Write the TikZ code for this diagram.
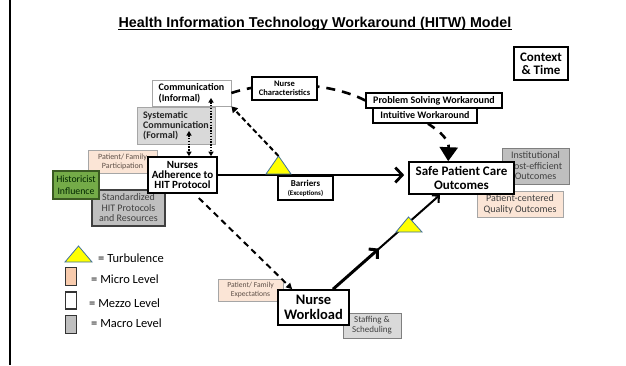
\documentclass[tikz,border=0pt]{standalone}
\usepackage{fontspec}
\setmainfont{Carlito}
\newfontfamily\titlefont{Liberation Sans}
\usetikzlibrary{arrows.meta,calc}

\definecolor{peach}{HTML}{FBE5D6}
\definecolor{peachdark}{HTML}{F8CBAD}
\definecolor{lightfill}{HTML}{D9D9D9}
\definecolor{midfill}{HTML}{BFBFBF}
\definecolor{histgreen}{HTML}{74AB48}
\definecolor{histedge}{HTML}{3A5A22}
\definecolor{turbyellow}{HTML}{FFFF00}
\definecolor{turbedge}{HTML}{41719C}
\definecolor{softedge}{HTML}{A6A6A6}
\definecolor{midedge}{HTML}{7F7F7F}
\definecolor{greytext}{HTML}{404040}
\definecolor{warmtext}{HTML}{5E5048}

\newcommand{\fs}[2]{\fontsize{#1}{#2}\selectfont}

\begin{document}
\begin{tikzpicture}[x=1pt,y=-1pt,
  box/.style={draw, inner sep=0pt, align=center, fill=white},
  mezzo/.style={box, line width=1.6pt},
  softbox/.style={box, draw=softedge, line width=0.8pt},
  micro/.style={box, fill=peach, draw=softedge, line width=0.8pt, text=warmtext},
  macro/.style={box, fill=midfill, draw=midedge, line width=0.9pt, text=greytext},
  macrolight/.style={box, fill=lightfill, draw=softedge, line width=0.9pt},
  turb/.style={fill=turbyellow, draw=turbedge, line width=0.8pt, line join=miter},
  heavydash/.style={line width=2.6pt, dash pattern=on 9pt off 7pt},
  meddash/.style={line width=2pt, dash pattern=on 5pt off 3pt},
  dotlink/.style={line width=1.6pt, dash pattern=on 1.4pt off 1.4pt,
    {Triangle[length=4.5pt,width=5pt]}-{Triangle[length=4.5pt,width=5pt]}},
  legtext/.style={anchor=west, inner sep=0pt, font=\fs{12.5}{14}}
]
\useasboundingbox (0,0) rectangle (626,365);

% frame edge and heading
\draw[line width=2.4pt] (10,0) -- (10,365);
\node[inner sep=0pt, anchor=base, font=\titlefont\bfseries\fs{14.3}{16}] (title) at (315,27)
  {Health Information Technology Workaround (HITW) Model};
\draw[line width=1.1pt] ([yshift=-2.2pt]title.base west) -- ([yshift=-2.2pt]title.base east);

% upper row: communication and workaround boxes
\node[softbox, minimum width=79pt, minimum height=26pt, align=left, font=\bfseries\fs{10}{10.5}]
  (comminf) at (191.5,93) {Communication\\(Informal)};
\node[box, line width=1.4pt, minimum width=136pt, minimum height=15pt, font=\bfseries\fs{10}{11}]
  (probsolv) at (434,100.5) {Problem Solving Workaround};
\node[box, line width=1.4pt, minimum width=104pt, minimum height=15pt, font=\bfseries\fs{10}{11}]
  (intuit) at (425,115.5) {Intuitive Workaround};

% dashed link running behind the nurse characteristics box
\draw[heavydash] (comminf.east) .. controls (270,80) and (330,82) .. (probsolv.west);
\node[box, line width=1.4pt, minimum width=65pt, minimum height=23pt, font=\bfseries\fs{8.5}{9}]
  (nursechar) at (284.5,88.5) {Nurse\\Characteristics};

\node[macrolight, minimum width=78pt, minimum height=37pt, align=left, font=\bfseries\fs{10}{10}, text=black!85]
  (syscomm) at (176,125.5) {Systematic\\Communication\\(Formal)};

% left cluster around protocol adherence
\node[micro, minimum width=69pt, minimum height=23pt, font=\fs{8}{9}]
  (patfam) at (122.5,161.5) {Patient/ Family\\Participation};
\node[macro, draw=black!75, line width=1.2pt, minimum width=73pt, minimum height=36pt, font=\fs{10}{10.5}]
  (stand) at (128.5,208) {Standardized\\HIT Protocols\\and Resources};
\node[box, fill=histgreen, draw=histedge, line width=1.2pt, minimum width=46pt, minimum height=28pt,
  font=\fs{9.8}{12}, text=black!85!green]
  (hist) at (76,185) {Historicist\\Influence};
\node[mezzo, minimum width=69pt, minimum height=36pt, font=\bfseries\fs{11}{10.2}]
  (adher) at (182.5,175) {Nurses\\Adherence to\\HIT Protocol};

% outcomes cluster
\node[macro, minimum width=67pt, minimum height=36pt, font=\fs{10}{10.5}]
  (inst) at (535.5,166) {Institutional\\Cost-efficient\\Outcomes};
\node[micro, minimum width=86pt, minimum height=26pt, font=\fs{10}{11}, text=greytext]
  (pcq) at (520,204) {Patient-centered\\Quality Outcomes};
\node[mezzo, minimum width=105pt, minimum height=32pt, font=\bfseries\fs{13}{13.5}]
  (safe) at (461.5,178) {Safe Patient Care\\Outcomes};

% main path: adherence to outcomes, with barriers
\draw[line width=2.8pt, -{Straight Barb[length=7pt,width=15pt]}, shorten >=4pt]
  (adher.east) -- (adher.east -| safe.west);
\coordinate (t1) at (278.5,156);
\filldraw[turb] (266,174) -- (t1) -- (291,174) -- cycle;
\node[box, line width=1.4pt, minimum width=55pt, minimum height=24pt, font=\bfseries\fs{9}{10}]
  (barriers) at (305.5,188) {Barriers\\[-1pt]{\fs{7}{8}(Exceptions)}};

% workload cluster
\node[micro, minimum width=65pt, minimum height=22pt, font=\fs{7.6}{9}]
  (pfe) at (250.5,290) {Patient/ Family\\Expectations};
\node[macrolight, draw=midedge, minimum width=58pt, minimum height=25pt, font=\fs{9}{10}, text=greytext]
  (staff) at (372,325.5) {Staffing \&\\Scheduling};
\node[mezzo, minimum width=71pt, minimum height=35pt, font=\bfseries\fs{14.5}{14.5}]
  (workload) at (313.5,307.5) {Nurse\\Workload};

% workload to outcomes, thick then thinner
\coordinate (wlstart) at ([xshift=19.5pt]workload.north);
\coordinate (safein) at ([xshift=-21.5pt]safe.south);
\draw[line width=3pt, -{Straight Barb[length=6pt,width=13pt]}]
  (wlstart) -- ($(wlstart)!0.43!(safein)$);
\draw[line width=2pt, -{Straight Barb[length=5pt,width=10pt]}]
  ($(wlstart)!0.41!(safein)$) -- (safein);
\coordinate (t2) at (408.5,217);
\filldraw[turb] (396,232) -- (t2) -- (422,232) -- cycle;

% dashed influences
\draw[meddash, -{Triangle[length=6pt,width=7pt]}] (t1) -- (comminf.south east);
\draw[line width=2pt, dash pattern=on 6pt off 4.5pt, -{Triangle[length=6pt,width=6pt]}, shorten <=6pt]
  ([xshift=12pt]adher.south) -- ([xshift=15pt]workload.north west);
\draw[heavydash, dash pattern=on 8pt off 7pt, -{Triangle[length=14pt,width=18pt]}]
  ([xshift=3pt]intuit.south) .. controls (441,132) and (449,140) .. ([xshift=40pt]safe.north west);

% dotted two-way links into adherence
\draw[dotlink] ([xshift=13pt,yshift=-5.5pt]syscomm.center) -- ([xshift=6.5pt]adher.north);
\draw[dotlink] ([xshift=19.5pt,yshift=-5pt]comminf.center) -- ([xshift=28.5pt]adher.north);

% context
\node[mezzo, minimum width=54pt, minimum height=33pt, font=\bfseries\fs{13}{13}]
  (context) at (541,63.5) {Context\\\& Time};

% legend
\coordinate (lt) at (78.5,246);
\filldraw[turb] (65,262) -- (lt) -- (92,262) -- cycle;
\node[legtext] (lturb) at (98,258.5) {= Turbulence};
\node[draw=black!80, line width=1.8pt, fill=peachdark, minimum width=11pt, minimum height=18pt, inner sep=0pt]
  (lmicro) at (71,276.5) {};
\node[legtext] (lmicrot) at (91,279) {= Micro Level};
\node[draw=black!80, line width=1.8pt, fill=white, minimum width=11pt, minimum height=17pt, inner sep=0pt]
  (lmezzo) at (71,300.5) {};
\node[legtext] (lmezzot) at (89,303) {= Mezzo Level};
\node[draw=black!80, line width=1.8pt, fill=midfill, minimum width=11pt, minimum height=18pt, inner sep=0pt]
  (lmacro) at (71,324.5) {};
\node[legtext] (lmacrot) at (91,323) {= Macro Level};
\end{tikzpicture}
\end{document}
